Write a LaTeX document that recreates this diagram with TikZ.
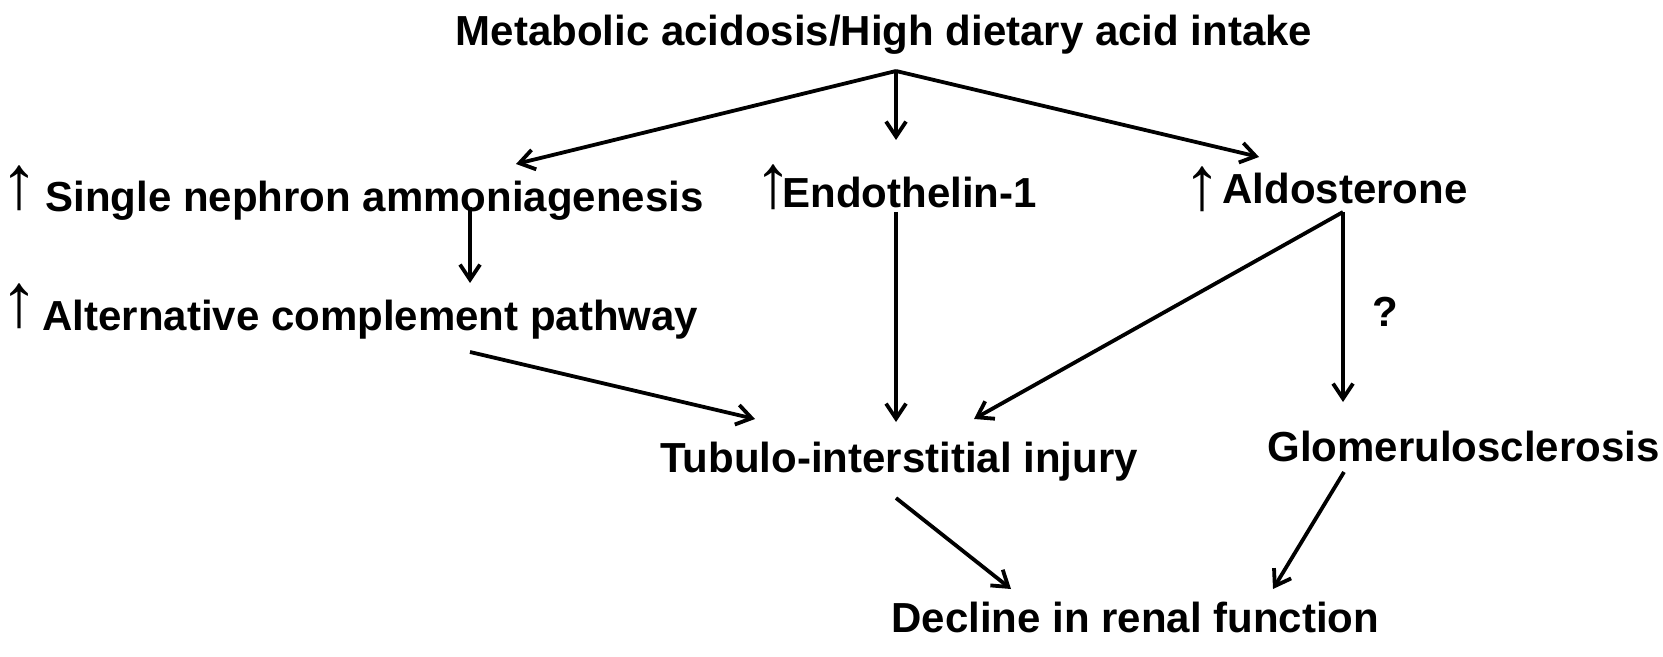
\documentclass[tikz,border=0pt]{standalone}
\usepackage{fontspec}
\setmainfont{Liberation Sans}
\usetikzlibrary{arrows.meta}
\begin{document}
\begin{tikzpicture}[x=0.5pt,y=-0.5pt,
  lbl/.style={inner sep=0pt,font=\fontsize{21}{25}\selectfont\bfseries},
  upar/.style={inner sep=0pt,font=\fontsize{38}{42}\selectfont\bfseries},
  conn/.style={line width=1.9pt,-{Straight Barb[length=7.5pt,width=10pt,line width=1.9pt]}}]
\useasboundingbox (0,0) rectangle (1663,657);
% texts
\node[lbl] (title) at (884,35) {Metabolic acidosis/High dietary acid intake};
\node[lbl,anchor=base west] (sna) at (45,212) {Single nephron ammoniagenesis};
\node[upar,anchor=base] (usna) at (20,209) {↑};
\node[lbl,anchor=base west] (alt) at (42,330) {Alternative complement pathway};
\node[upar,anchor=base] (ualt) at (20,327) {↑};
\node[lbl,anchor=base west] (endo) at (782,208) {Endothelin-1};
\node[upar,anchor=base] (uendo) at (773,208) {↑};
\node[lbl,anchor=base west] (ald) at (1222,204) {Aldosterone};
\node[upar,anchor=base] (uald) at (1202,210) {↑};
\node[lbl,anchor=base west] (tub) at (660,472) {Tubulo-interstitial injury};
\node[lbl,anchor=base west] (glom) at (1267,461) {Glomerulosclerosis};
\node[lbl,anchor=base west] (dec) at (891,632) {Decline in renal function};
\node[lbl] (q) at (1385,312) {?};
% connector points
\coordinate (apex) at (896,71);
\coordinate (tsna) at (516,164);
\coordinate (tendo) at (896,140);
\coordinate (tald) at (1259,157);
\coordinate (sna0) at (470,207);
\coordinate (talt) at (470,283);
\coordinate (endo0) at (896,212);
\coordinate (tub1) at (896,422);
\coordinate (ald0) at (1343,212);
\coordinate (tub2) at (974,419);
\coordinate (tglom) at (1343,402);
\coordinate (alt0) at (470,352);
\coordinate (tub0) at (755,419);
\coordinate (tub3) at (896,498);
\coordinate (dec0) at (1011,589);
\coordinate (glom0) at (1344,472);
\coordinate (dec1) at (1273,589);
% connectors
\draw[conn] (apex) -- (tsna);
\draw[conn] (apex) -- (tendo);
\draw[conn] (apex) -- (tald);
\draw[conn] (sna0) -- (talt);
\draw[conn] (endo0) -- (tub1);
\draw[conn] (ald0) -- (tub2);
\draw[conn] (ald0) -- (tglom);
\draw[conn] (alt0) -- (tub0);
\draw[conn] (tub3) -- (dec0);
\draw[conn] (glom0) -- (dec1);
\end{tikzpicture}
\end{document}
